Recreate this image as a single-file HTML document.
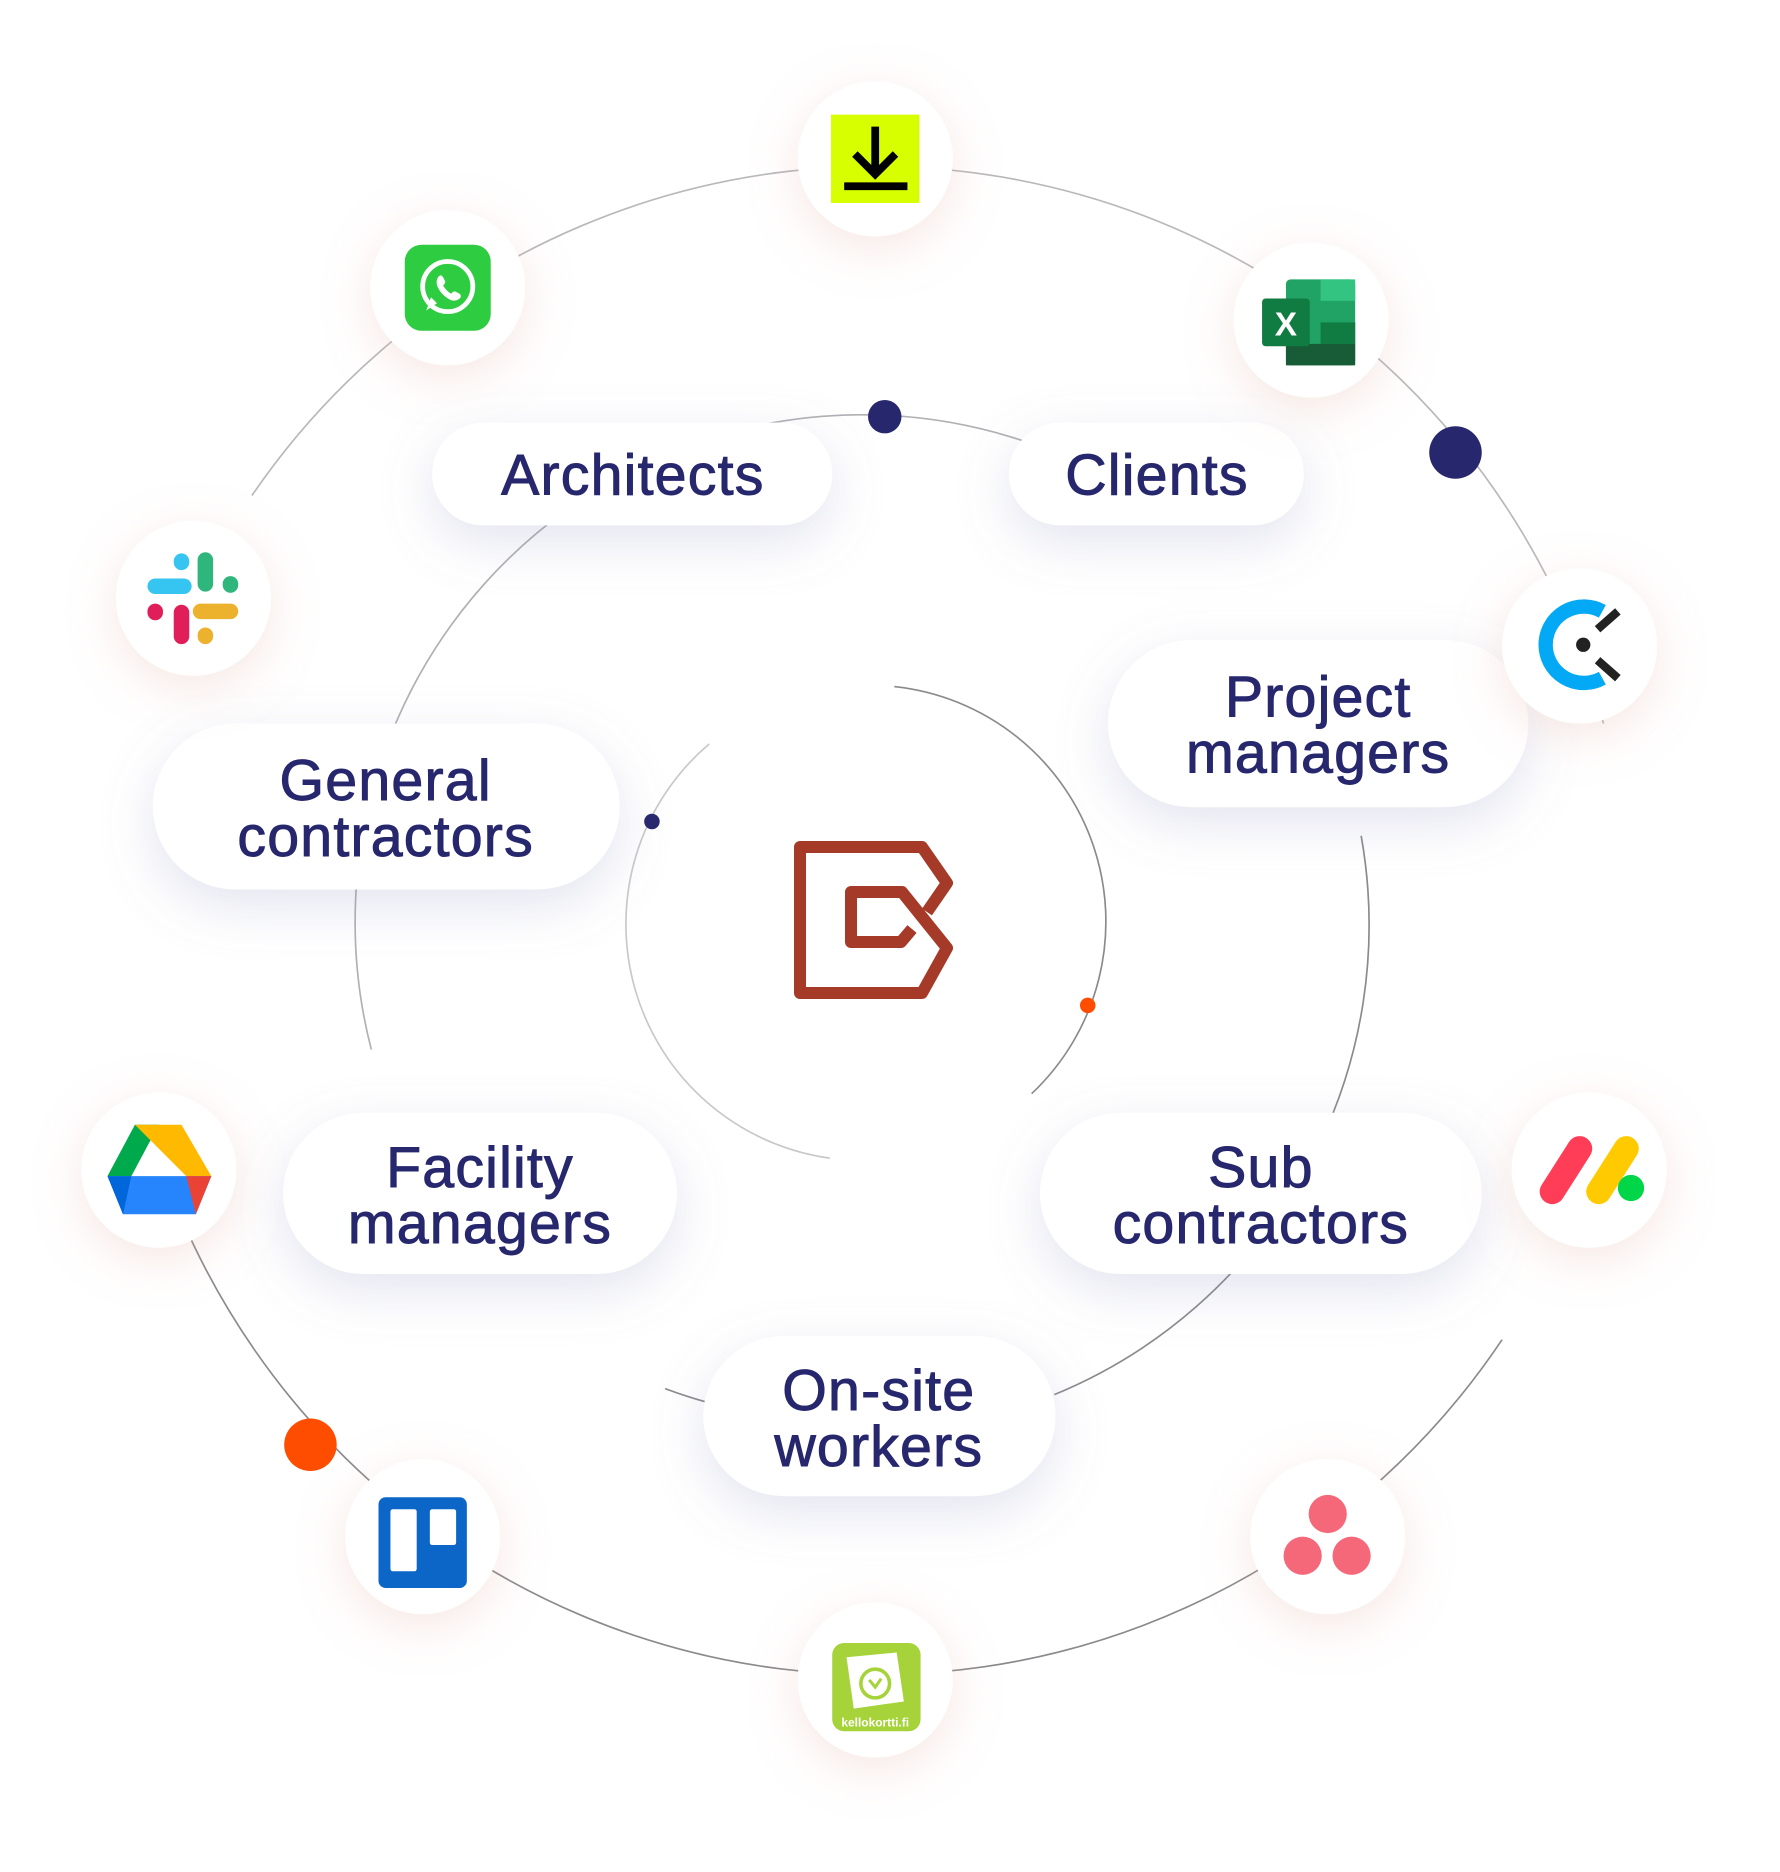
<!DOCTYPE html>
<html><head><meta charset="utf-8"><style>
html,body{margin:0;padding:0;background:#fff;}
svg{display:block;}
text{font-family:"Liberation Sans",sans-serif;}
</style></head><body>
<svg width="1780" height="1872" viewBox="0 0 1780 1872" xmlns="http://www.w3.org/2000/svg">
<defs>
<filter id="ps" x="-40%" y="-60%" width="180%" height="240%"><feDropShadow dx="0" dy="14" stdDeviation="22" flood-color="#7f84b8" flood-opacity="0.22"/></filter>
<filter id="is" x="-60%" y="-60%" width="220%" height="220%"><feDropShadow dx="0" dy="10" stdDeviation="20" flood-color="#e0a898" flood-opacity="0.28"/></filter>
</defs>
<rect width="1780" height="1872" fill="#fff"/>
<g transform="scale(1.194)">
<g fill="none" stroke="#8a8a8e" stroke-width="1.4">
<path d="M749,575 A198,198 0 0 1 864,916"/>
<path d="M695,970 A198,198 0 0 1 594,623" stroke="#c8c8cc"/>
<path d="M311,879 A425,425 0 0 1 960,420" stroke="#b0b0b4"/>
<path d="M1140,700 A425,425 0 0 1 883,1168"/>
<path d="M610,1179 A425,425 0 0 1 557,1163"/>
<path d="M211,415 A632,632 0 0 1 1343,606" stroke="#b8b8bc"/>
<path d="M1258,1122 A632,632 0 0 1 136,979"/>
</g>
<circle cx="741" cy="349" r="14" fill="#27276e"/>
<circle cx="1219" cy="379" r="22" fill="#27276e"/>
<circle cx="260" cy="1210" r="22" fill="#ff4d00"/>
<circle cx="546" cy="688" r="6.5" fill="#27276e"/>
<circle cx="911" cy="842" r="6.5" fill="#ff4d00"/>

<g fill="#fff" filter="url(#ps)">
<rect x="362" y="354" width="335" height="86" rx="43"/>
<rect x="845" y="354" width="247" height="86" rx="43"/>
<rect x="928" y="536" width="352" height="140" rx="70"/>
<rect x="128" y="606" width="391" height="139" rx="69.5"/>
<rect x="237" y="932" width="330" height="135" rx="67.5"/>
<rect x="871" y="932" width="370" height="135" rx="67.5"/>
<rect x="589" y="1119" width="295" height="134" rx="67"/>
</g>
<g fill="#27276e" stroke="#27276e" stroke-width="0.8" font-size="48" text-anchor="middle" letter-spacing="1">
<text x="530" y="414">Architects</text>
<text x="969" y="414">Clients</text>
<text x="1104" y="600">Project</text>
<text x="1104" y="647">managers</text>
<text x="323" y="670">General</text>
<text x="323" y="717">contractors</text>
<text x="402" y="994">Facility</text>
<text x="402" y="1041">managers</text>
<text x="1056" y="994">Sub</text>
<text x="1056" y="1041">contractors</text>
<text x="736" y="1181">On-site</text>
<text x="736" y="1228">workers</text>
</g>

<g fill="#fff" filter="url(#is)">
<circle cx="733" cy="133" r="65"/>
<circle cx="375" cy="241" r="65"/>
<circle cx="1098" cy="268" r="65"/>
<circle cx="162" cy="501" r="65"/>
<circle cx="1323" cy="541" r="65"/>
<circle cx="133" cy="980" r="65"/>
<circle cx="1331" cy="980" r="65"/>
<circle cx="354" cy="1287" r="65"/>
<circle cx="1112" cy="1287" r="65"/>
<circle cx="733" cy="1407" r="65"/>
</g>

<rect x="696" y="96" width="74" height="74" fill="#d7ff00"/>
<path d="M733,106 V145 M716,129 L733,146 L750,129 M707,156 H760" stroke="#000" stroke-width="6.5" fill="none"/>

<rect x="339" y="205" width="72" height="72" rx="14" fill="#2ecc40"/>
<circle cx="375" cy="240" r="21" fill="none" stroke="#fff" stroke-width="4"/>
<path d="M357,260 L361,249 L366,254 Z" fill="#fff"/>
<path d="M367,232 q2,-3 4,0 l2,4 q-1,3 -2,3 q3,5 7,7 q1,-2 3,-2 l4,2 q2,2 0,4 q-4,3 -8,1 q-8,-4 -11,-12 q-1,-4 1,-7z" fill="#fff"/>

<rect x="1077" y="234" width="58" height="72" rx="4" fill="#21a366"/>
<rect x="1106" y="234" width="29" height="18" fill="#33c481"/>
<rect x="1106" y="270" width="29" height="18" fill="#107c41"/>
<rect x="1077" y="288" width="58" height="18" fill="#185c37"/>
<rect x="1057" y="250" width="40" height="40" rx="3" fill="#107c41"/>
<text x="1077" y="281" font-size="28" font-weight="bold" fill="#fff" text-anchor="middle">X</text>

<g stroke-linecap="round" stroke-width="13" fill="none">
<path d="M172,469 V489" stroke="#2eb67d"/><path d="M193,489 V490" stroke="#2eb67d"/>
<path d="M168,512 H193" stroke="#ecb22e"/><path d="M172,532 V533" stroke="#ecb22e"/>
<path d="M152,513 V533" stroke="#e01e5a"/><path d="M130,512 V513" stroke="#e01e5a"/>
<path d="M130,491 H154" stroke="#36c5f0"/><path d="M152,470 V471" stroke="#36c5f0"/>
</g>

<path d="M1342,512 A32,32 0 1 0 1342,568" fill="none" stroke="#03a9f4" stroke-width="12"/>
<path d="M1338,527 L1355,512 M1338,553 L1355,568" stroke="#222" stroke-width="7"/>
<circle cx="1326" cy="540" r="6" fill="#222"/>

<path d="M113,942 L90,985 L110,985 L133,942Z" fill="#00a94b"/>
<path d="M113,942 H152 L177,985 H156 Z" fill="#ffba00"/>
<path d="M90,985 L103,1017 H164 L177,985 Z" fill="#2684fc"/>
<path d="M156,985 H177 L164,1017Z" fill="#ea4335"/>
<path d="M90,985 H110 L103,1017Z" fill="#0066da"/>

<g stroke-linecap="round" stroke-width="21" fill="none">
<path d="M1300,998 L1323,962" stroke="#ff3d57"/>
<path d="M1339,998 L1362,962" stroke="#ffcb00"/>
</g>
<circle cx="1366" cy="995" r="11" fill="#00d647"/>

<rect x="317" y="1254" width="74" height="76" rx="6" fill="#0c66c8"/>
<rect x="327" y="1264" width="22" height="52" rx="2" fill="#fff"/>
<rect x="360" y="1264" width="22" height="30" rx="2" fill="#fff"/>

<circle cx="1112" cy="1268" r="16" fill="#f5687a"/>
<circle cx="1091" cy="1303" r="16" fill="#f5687a"/>
<circle cx="1132" cy="1303" r="16" fill="#f5687a"/>

<rect x="697" y="1376" width="74" height="74" rx="10" fill="#a6d33a"/>
<path d="M709,1388 L751,1384 L757,1425 L715,1431 Z" fill="#fff"/>
<circle cx="733" cy="1410" r="12" fill="none" stroke="#a6d33a" stroke-width="3"/>
<path d="M728,1407 L733,1413 L738,1406" stroke="#a6d33a" stroke-width="2.5" fill="none"/>
<text x="733" y="1446" font-size="10" font-weight="bold" fill="#fff" text-anchor="middle">kellokortti.fi</text>
</g>

<g fill="none" stroke="#a63a29" stroke-width="12" stroke-linejoin="round">
<path d="M927,912 L947,883 L922,847 H800 V993 H922 L947,948 L902,892 H851 V942 H901 L912,929"/>
</g>
</svg>
</body></html>
